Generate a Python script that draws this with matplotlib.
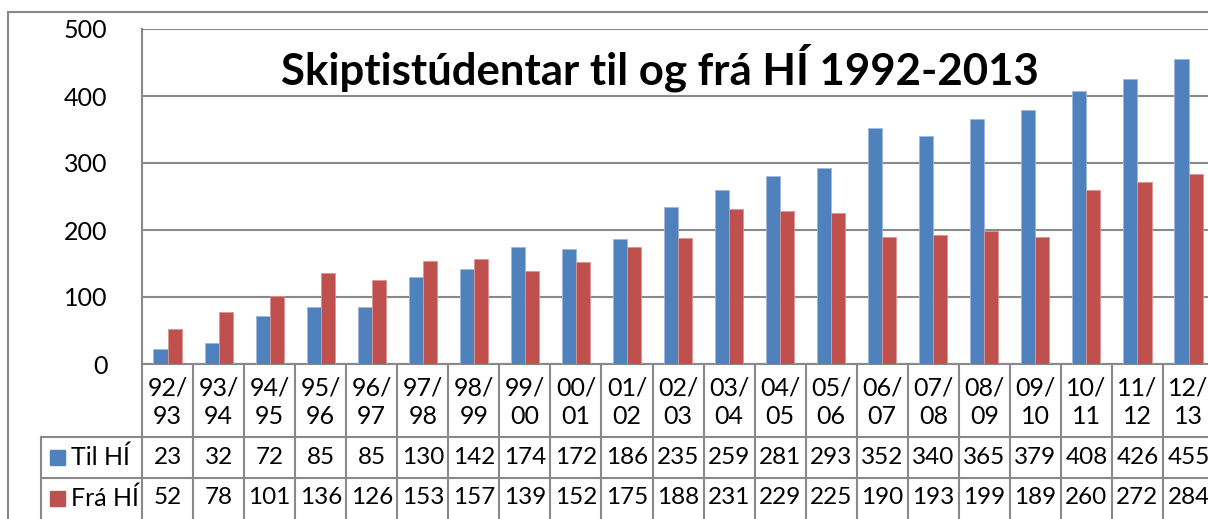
import numpy as np
import matplotlib
matplotlib.use("Agg")
import matplotlib.pyplot as plt
import matplotlib.transforms as mtransforms
from matplotlib.lines import Line2D

# data
years = ['92/\n93', '93/\n94', '94/\n95', '95/\n96', '96/\n97', '97/\n98', '98/\n99',
         '99/\n00', '00/\n01', '01/\n02', '02/\n03', '03/\n04', '04/\n05', '05/\n06',
         '06/\n07', '07/\n08', '08/\n09', '09/\n10', '10/\n11', '11/\n12', '12/\n13']
til_hi = [23, 32, 72, 85, 85, 130, 142, 174, 172, 186, 235, 259, 281, 293,
          352, 340, 365, 379, 408, 426, 455]
fra_hi = [52, 78, 101, 136, 126, 153, 157, 139, 152, 175, 188, 231, 229, 225,
          190, 193, 199, 189, 260, 272, 284]
series_names = ['Til HÍ', 'Frá HÍ']
yticks = [0, 100, 200, 300, 400, 500]

blue = '#4F81BD'
red = '#C0504D'
grid = '#898989'

plt.rcParams['font.family'] = ['Lato', 'DejaVu Sans']

W, H = 1208, 519
fig = plt.figure(figsize=(W/100, H/100), dpi=100)

def fx(x):
    return x / W

def fy(y):
    return 1 - y / H

# plot area in pixels (top-left origin)
left, top, zero = 142, 29, 364
colw = 51.05
n = len(years)
ax = fig.add_axes([fx(left), fy(zero), fx(colw*n), (zero - top)/H])

x = np.arange(n)
bw = 0.275
ax.bar(x - bw/2, til_hi, bw, color=blue, edgecolor='#9DB9DC', linewidth=0.6, zorder=3)
ax.bar(x + bw/2, fra_hi, bw, color=red, edgecolor='#D99694', linewidth=0.6, zorder=3)

ax.set_xlim(-0.5, n - 0.5)
ax.set_ylim(0, 500)
ax.set_yticks(yticks)
ax.set_xticks([])
ax.yaxis.grid(True, color=grid, lw=1.5, zorder=0)
ax.tick_params(axis='y', length=0, pad=25, labelsize=18)
for s in ['top', 'right']:
    ax.spines[s].set_visible(False)
for s in ['left', 'bottom']:
    ax.spines[s].set_color(grid)
    ax.spines[s].set_linewidth(1.5)

ax.text(0.483, 0.885, 'Skiptistúdentar til og frá HÍ 1992-2013', transform=ax.transAxes,
        ha='center', va='center', fontsize=31.5, fontweight='bold')

# data table below the plot
tr = mtransforms.blended_transform_factory(ax.transData, fig.transFigure)
row1, row2, bottom = 437, 478, 530
for i in range(n + 1):
    fig.add_artist(Line2D([i - 0.5, i - 0.5], [fy(zero), fy(bottom)], transform=tr,
                          color=grid, lw=1.5))
for yy in [row1, row2]:
    fig.add_artist(Line2D([fx(41), fx(W + 20)], [fy(yy), fy(yy)], color=grid, lw=1.5))
fig.add_artist(Line2D([fx(41), fx(41)], [fy(row1), fy(bottom)], color=grid, lw=1.5))

fs = 17.5
for i, lab in enumerate(years):
    top_lab, bot_lab = lab.split('\n')
    fig.text(i, fy(388), top_lab, transform=tr, ha='center', va='center', fontsize=18)
    fig.text(i, fy(417), bot_lab, transform=tr, ha='center', va='center', fontsize=18)
    fig.text(i, fy(457), str(til_hi[i]), transform=tr, ha='center', va='center', fontsize=fs)
    fig.text(i, fy(498), str(fra_hi[i]), transform=tr, ha='center', va='center', fontsize=fs)

for name, col, yc in [(series_names[0], blue, 457), (series_names[1], red, 498)]:
    fig.patches.append(plt.Rectangle((fx(50), fy(yc + 7.5)), fx(15), 15/H, color=col,
                                     transform=fig.transFigure, figure=fig))
    fig.text(fx(71), fy(yc), name, ha='left', va='center', fontsize=18)

# outer chart border
fig.add_artist(Line2D([fx(8), fx(8)], [fy(12), fy(H + 5)], color=grid, lw=1.5))
fig.add_artist(Line2D([fx(8), fx(W + 5)], [fy(12), fy(12)], color=grid, lw=1.5))

fig.savefig('out.png', dpi=100)
